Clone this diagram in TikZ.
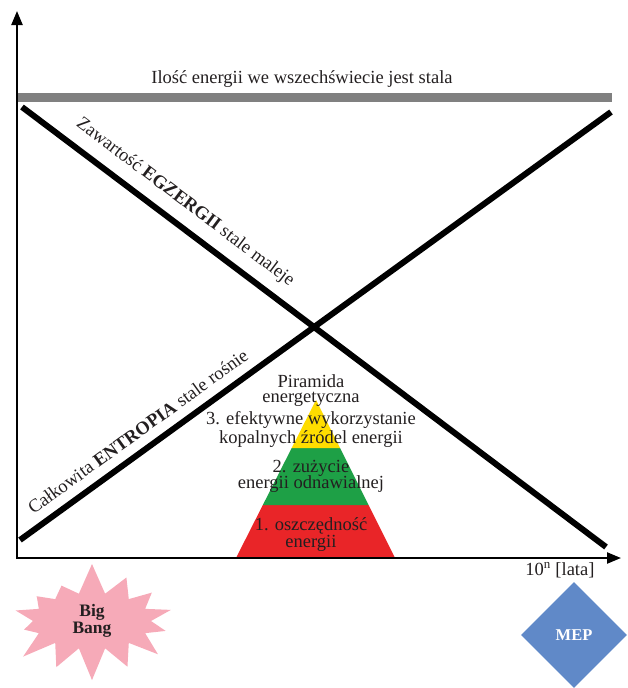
\documentclass[tikz,border=0pt]{standalone}
\usepackage{fontspec}
\setmainfont{Liberation Serif}
\usetikzlibrary{%
  arrows.meta,
  calc,
  shapes.geometric,
  shapes.symbols
}
\definecolor{bargray}{RGB}{128,128,128}
\definecolor{pyrred}{RGB}{233,37,40}
\definecolor{pyrgreen}{RGB}{30,160,70}
\definecolor{pyryellow}{RGB}{255,221,0}
\definecolor{bangpink}{RGB}{246,170,184}
\definecolor{mepblue}{RGB}{96,137,200}
\definecolor{ink}{RGB}{35,31,32}

\begin{document}
\begin{tikzpicture}[x=1pt,y=-1pt,
    font=\fontsize{18.5}{17}\selectfont,text=ink,
    axis/.style={line width=2.2pt,-{Triangle[length=14pt,width=11pt]}},
    trend/.style={line width=6pt}]
  \useasboundingbox (0,0) rectangle (627,688);

  \coordinate (pbl) at (236,558);
  \coordinate (pbr) at (395,558);
  \coordinate (ptop) at (316,400);
  \foreach \c/\a/\b in {pyrred/0/0.335,pyrgreen/0.335/0.696,pyryellow/0.696/1}{
    \fill[\c] ($(pbl)!\a!(ptop)$) -- ($(pbr)!\a!(ptop)$)
      -- ($(pbr)!\b!(ptop)$) -- ($(pbl)!\b!(ptop)$) -- cycle;
  }
  \foreach \t/\y [count=\i] in {Piramida/387,energetyczna/402,
      {3. efektywne wykorzystanie}/424,{kopalnych źródel energii}/443,
      {2. zużycie}/472,{energii odnawialnej}/488,
      {1. oszczędność}/530,energii/547}{
    \node [anchor=base] (pyr\i) at (311,\y) {\t};
  }

  \coordinate (bar1) at (17,97);
  \coordinate (bar2) at (612,97);
  \draw[bargray,line width=9pt] (bar1) -- (bar2);
  \node [anchor=base] (total) at (302,83) {Ilość energii we wszechświecie jest stala};

  \coordinate (ex1) at (22,107);
  \coordinate (ex2) at (606,547);
  \coordinate (en1) at (20,540);
  \coordinate (en2) at (611,112);
  \draw[trend] (ex1) -- node[sloped,above=7pt,pos=0.257] (exlabel)
    {Zawartość \textbf{EGZERGII} stale maleje} (ex2);
  \draw[trend] (en1) -- node[sloped,above=6pt,pos=0.218] (enlabel)
    {Całkowita \textbf{ENTROPIA} stale rośnie} (en2);

  \coordinate (o) at (17,559.1);
  \coordinate (ytop) at (17,11);
  \coordinate (xend) at (621,558);
  \draw[axis] (o) -- (ytop);
  \draw[axis] (16,558) -- (xend);
  \node [anchor=base east] (time) at (598,575) {10\textsuperscript{n} [lata]};

  \node [starburst,fill=bangpink,starburst points=14,starburst point height=32pt,
    random starburst=7,minimum width=182pt,minimum height=120pt,inner sep=0pt,
    align=center,font=\fontsize{17.5}{15}\selectfont\bfseries] (bang) at (92,621) {Big\\Bang};
  \node [diamond,fill=mepblue,text=white,minimum width=106pt,minimum height=106pt,
    inner sep=0pt,font=\fontsize{16.5}{17}\selectfont\bfseries] (mep) at (574,635) {MEP};
\end{tikzpicture}
\end{document}
